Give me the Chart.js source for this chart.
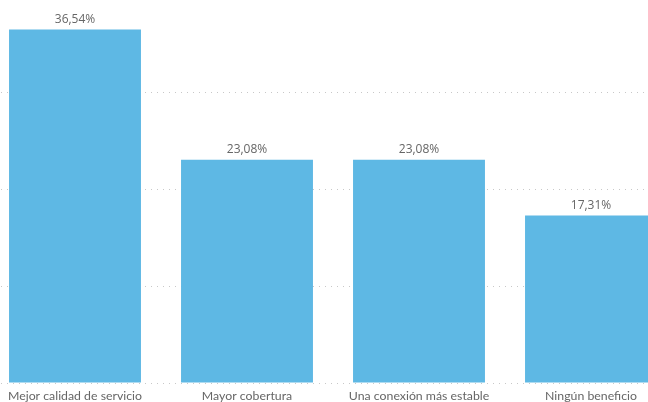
<!DOCTYPE html>
<html>
<head>
<meta charset="utf-8">
<script src="https://cdn.jsdelivr.net/npm/chart.js@4"></script>
<style>
  html, body { margin: 0; padding: 0; background: #fff; overflow: hidden; }
  body { width: 648px; height: 402px; position: relative; }
  #wrap { position: absolute; left: -11px; top: -4px; width: 688px; height: 406px; }
</style>
</head>
<body>
<div id="wrap"><canvas id="barChart" width="688" height="406"></canvas></div>
<script>
// 数据
const categories = ['Mejor calidad de servicio', 'Mayor cobertura', 'Una conexión más estable', 'Ningún beneficio'];
const percentages = [36.54, 23.08, 23.08, 17.31];
const yTicks = [0, 10, 20, 30, 40];

const barColor = 'rgb(94, 184, 228)';
const textColor = '#666666';
const valueFont = '"Open Sans", "Noto Sans", sans-serif';
const axisFont = 'Lato, "Open Sans", sans-serif';

// 柱顶数值标签
const valueLabels = {
    id: 'valueLabels',
    afterDatasetsDraw(chart) {
        const ctx = chart.ctx;
        const meta = chart.getDatasetMeta(0);
        ctx.save();
        ctx.font = '12px ' + valueFont;
        ctx.fillStyle = textColor;
        ctx.textAlign = 'center';
        ctx.textBaseline = 'bottom';
        meta.data.forEach((bar, i) => {
            const text = percentages[i].toFixed(2).replace('.', ',') + '%';
            ctx.fillText(text, bar.x, bar.y - 4);
        });
        ctx.restore();
    }
};

function initializeBarChart() {
    const el = document.getElementById('barChart');
    if (!el) {
        console.error('Bar chart canvas not found');
        return;
    }

    new Chart(el.getContext('2d'), {
        type: 'bar',
        data: {
            labels: categories,
            datasets: [{
                data: percentages,
                backgroundColor: barColor,
                borderWidth: 0,
                barPercentage: 1,
                categoryPercentage: 0.767
            }]
        },
        options: {
            responsive: false,
            animation: false,
            devicePixelRatio: 1,
            layout: { padding: 0 },
            plugins: {
                legend: { display: false },
                tooltip: { enabled: false }
            },
            scales: {
                x: {
                    grid: { display: false, drawTicks: false },
                    border: { display: false },
                    afterFit(scale) {
                        scale.height = 19;
                    },
                    ticks: {
                        color: textColor,
                        font: { family: axisFont, size: 12.3 },
                        padding: 6,
                        maxRotation: 0,
                        autoSkip: false
                    }
                },
                y: {
                    min: yTicks[0],
                    max: yTicks[yTicks.length - 1],
                    afterBuildTicks(scale) {
                        scale.ticks = yTicks.map(v => ({ value: v }));
                    },
                    // 点状网格线
                    border: { display: false, dash: [1, 5] },
                    grid: {
                        color: '#c8c8c8',
                        lineWidth: 1,
                        drawTicks: false
                    },
                    ticks: { display: false }
                }
            }
        },
        plugins: [valueLabels]
    });
}

initializeBarChart();
</script>
</body>
</html>
